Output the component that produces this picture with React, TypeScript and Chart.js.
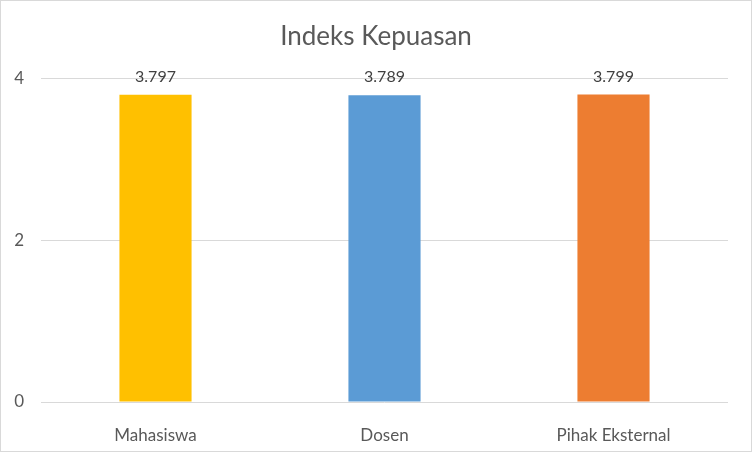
import React, { useEffect, useRef } from 'react';
import { Chart, registerables } from 'chart.js';

Chart.register(...registerables);

const categories = ['Mahasiswa', 'Dosen', 'Pihak Eksternal'];
const values = [3.797, 3.789, 3.799];
const barColors = ['#FFC000', '#5B9BD5', '#ED7D31'];
const yTicks = [0, 2, 4];

const FONT = 'Lato, "Open Sans", sans-serif';

// draws the value above each bar
const valueLabels = {
  id: 'valueLabels',
  afterDatasetsDraw(chart: any) {
    const ctx = chart.ctx;
    const meta = chart.getDatasetMeta(0);
    ctx.save();
    ctx.font = `16px ${FONT}`;
    ctx.fillStyle = '#404040';
    ctx.textAlign = 'center';
    ctx.textBaseline = 'middle';
    meta.data.forEach((bar: any, i: number) => {
      ctx.fillText(values[i].toFixed(3), bar.x, bar.y - 18);
    });
    ctx.restore();
  },
};

const App: React.FC = () => {
  const canvasRef = useRef<HTMLCanvasElement | null>(null);
  const chartRef = useRef<Chart | null>(null);

  useEffect(() => {
    document.body.style.margin = '0';
    if (!canvasRef.current) return;
    if (chartRef.current) chartRef.current.destroy();

    chartRef.current = new Chart(canvasRef.current, {
      type: 'bar',
      data: {
        labels: categories,
        datasets: [
          {
            label: 'Indeks Kepuasan',
            data: values,
            backgroundColor: barColors,
            barPercentage: 0.315,
            categoryPercentage: 1,
          },
        ],
      },
      options: {
        responsive: false,
        animation: false,
        layout: { padding: 0 },
        plugins: {
          legend: { display: false },
          tooltip: { enabled: false },
          title: {
            display: true,
            text: 'Indeks Kepuasan',
            color: '#595959',
            font: { family: FONT, size: 26, weight: 'normal' },
            padding: { top: 20, bottom: 26 },
          },
        },
        scales: {
          x: {
            grid: { display: false },
            border: { display: false },
            ticks: {
              color: '#595959',
              font: { family: FONT, size: 17 },
              padding: 15,
            },
            afterFit: (scale: any) => {
              scale.height = 49;
            },
          },
          y: {
            min: 0,
            max: 4,
            afterBuildTicks: (scale: any) => {
              scale.ticks = yTicks.map((v) => ({ value: v }));
            },
            grid: { color: '#D9D9D9', drawTicks: false, lineWidth: 1 },
            border: { display: false },
            ticks: {
              color: '#595959',
              font: { family: FONT, size: 17 },
              padding: 17,
            },
            afterFit: (scale: any) => {
              scale.width = 40;
            },
          },
          // empty right-hand gutter so the title stays centred on the canvas
          gutter: {
            type: 'linear',
            position: 'right',
            grid: { display: false },
            border: { display: false },
            ticks: { display: false },
            afterFit: (scale: any) => {
              scale.width = 23;
            },
          },
        },
      },
      plugins: [valueLabels],
    });

    return () => {
      if (chartRef.current) {
        chartRef.current.destroy();
        chartRef.current = null;
      }
    };
  }, []);

  return (
    <div style={{ width: 750, height: 450, border: '1px solid #D9D9D9', background: '#fff' }}>
      <canvas ref={canvasRef} width={750} height={450}></canvas>
    </div>
  );
};

export default App;
